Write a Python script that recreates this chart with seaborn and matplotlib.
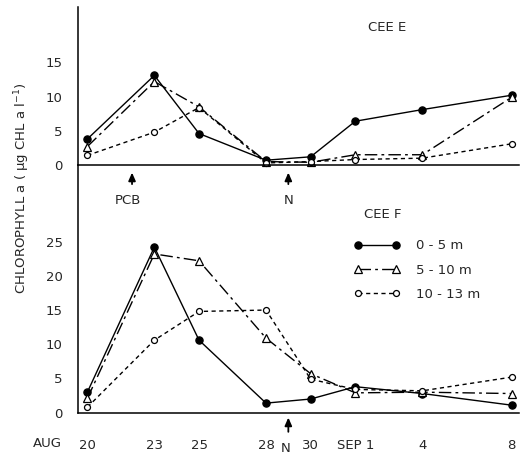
import matplotlib
matplotlib.use("Agg")
import matplotlib.pyplot as plt
import seaborn as sns
import pandas as pd

sns.set_style("white")
plt.rcParams["font.family"] = ["DejaVu Sans"]
plt.rcParams["font.size"] = 9.5

# sampling days, counted from Aug 20 (Sep 1 = day 12)
days = [0, 3, 5, 8, 10, 12, 15, 19]
day_labels = ["20", "23", "25", "28", "30", "SEP 1", "4", "8"]
depths = ["0 - 5 m", "5 - 10 m", "10 - 13 m"]

# CEE E chlorophyll a (ug/l)
cee_e_0_5 = [3.8, 13.1, 4.6, 0.7, 1.2, 6.4, 8.1, 10.2]
cee_e_5_10 = [2.7, 12.2, 8.5, 0.5, 0.4, 1.5, 1.5, 9.9]
cee_e_10_13 = [1.4, 4.8, 8.4, 0.3, 0.5, 0.8, 1.0, 3.1]

# CEE F chlorophyll a (ug/l)
cee_f_0_5 = [3.0, 24.2, 10.6, 1.4, 2.0, 3.8, 2.8, 1.1]
cee_f_5_10 = [2.1, 23.2, 22.2, 10.9, 5.7, 2.9, 3.0, 2.8]
cee_f_10_13 = [0.8, 10.6, 14.8, 15.0, 4.9, 3.4, 3.2, 5.2]

pcb_day = 2
n_day = 9

styles = {
    "0 - 5 m": dict(marker="o", markersize=5.2, markerfacecolor="black", linestyle="-"),
    "5 - 10 m": dict(marker="^", markersize=6.0, markerfacecolor="white",
                     linestyle=(0, (9, 3, 2, 3))),
    "10 - 13 m": dict(marker="o", markersize=4.3, markerfacecolor="white",
                      linestyle=(0, (3, 2.5))),
}

fig = plt.figure(figsize=(5.21, 4.58), dpi=100)
W, H = 521, 458
left = 78 / W
width = (519 - 78) / W
ax_top = fig.add_axes([left, 1 - 165 / H, width, (165 - 7) / H])
ax_bot = fig.add_axes([left, 1 - 412.7 / H, width, (412.7 - 165) / H])


def draw(ax, series):
    for name, vals in zip(depths, series):
        df = pd.DataFrame({"day": days, "chl": vals})
        sns.lineplot(data=df, x="day", y="chl", ax=ax, color="black", linewidth=1.0,
                     markeredgecolor="black", markeredgewidth=0.9, sort=False,
                     estimator=None, label=name, legend=False, clip_on=False,
                     **styles[name])


draw(ax_top, [cee_e_0_5, cee_e_5_10, cee_e_10_13])
draw(ax_bot, [cee_f_0_5, cee_f_5_10, cee_f_10_13])

xmin, xmax = -0.42, 19.33
for ax in (ax_top, ax_bot):
    ax.set_xlim(xmin, xmax)
    ax.set_xticks(days)
    ax.set_xlabel("")
    ax.set_ylabel("")
    ax.patch.set_alpha(0)
    for s in ("top", "right"):
        ax.spines[s].set_visible(False)
    for s in ("left", "bottom"):
        ax.spines[s].set_linewidth(1.1)
        ax.spines[s].set_color("black")
    ax.tick_params(axis="both", direction="out", length=5, width=1.0, color="black")
    ax.tick_params(axis="y", pad=6)

ax_top.set_ylim(0, 23.1)
ax_top.set_yticks([0, 5, 10, 15])
ax_top.set_xticklabels([])
if ax_top.get_legend() is not None:
    ax_top.get_legend().remove()

ax_bot.set_ylim(0, 36.2)
ax_bot.set_yticks([0, 5, 10, 15, 20, 25])
ax_bot.set_xticklabels(day_labels)
ax_bot.tick_params(axis="x", pad=14)

ax_top.text(0.70, 0.87, "CEE E", transform=ax_top.transAxes, ha="center", va="center")
ax_bot.text(0.69, 0.80, "CEE F", transform=ax_bot.transAxes, ha="center", va="center")

# AUG label next to first tick
ax_bot.annotate("AUG", xy=(days[0], 0), xytext=(-40, -30.5), textcoords="offset pixels",
                ha="center", va="center", annotation_clip=False)

arrow = dict(arrowstyle="-|>,head_length=0.5,head_width=0.22", color="black", lw=1.3)
ax_bot.annotate("", xy=(pcb_day, 35.5), xytext=(pcb_day, 33.0), arrowprops=arrow,
                annotation_clip=False)
ax_bot.text(pcb_day - 0.2, 31.0, "PCB", ha="center", va="center")
ax_bot.annotate("", xy=(n_day, 35.5), xytext=(n_day, 33.0), arrowprops=arrow,
                annotation_clip=False)
ax_bot.text(n_day, 31.0, "N", ha="center", va="center")
ax_bot.annotate("", xy=(n_day, -0.3), xytext=(n_day, -3.2), arrowprops=arrow,
                annotation_clip=False)
ax_bot.text(n_day - 0.1, -5.3, "N", ha="center", va="center", clip_on=False)

ax_bot.legend(loc="upper left", bbox_to_anchor=(0.626, 0.70), frameon=False,
              numpoints=2, handlelength=3.5, handletextpad=1.2, labelspacing=0.85,
              borderaxespad=0, borderpad=0, fontsize=9.5)

fig.text(0.042, 1 - 188 / H,
         "CHLOROPHYLL a ( \u00b5g CHL a l$^{-1}$)",
         rotation=90, ha="center", va="center", fontsize=9.5)

fig.savefig("out.png", dpi=100)
